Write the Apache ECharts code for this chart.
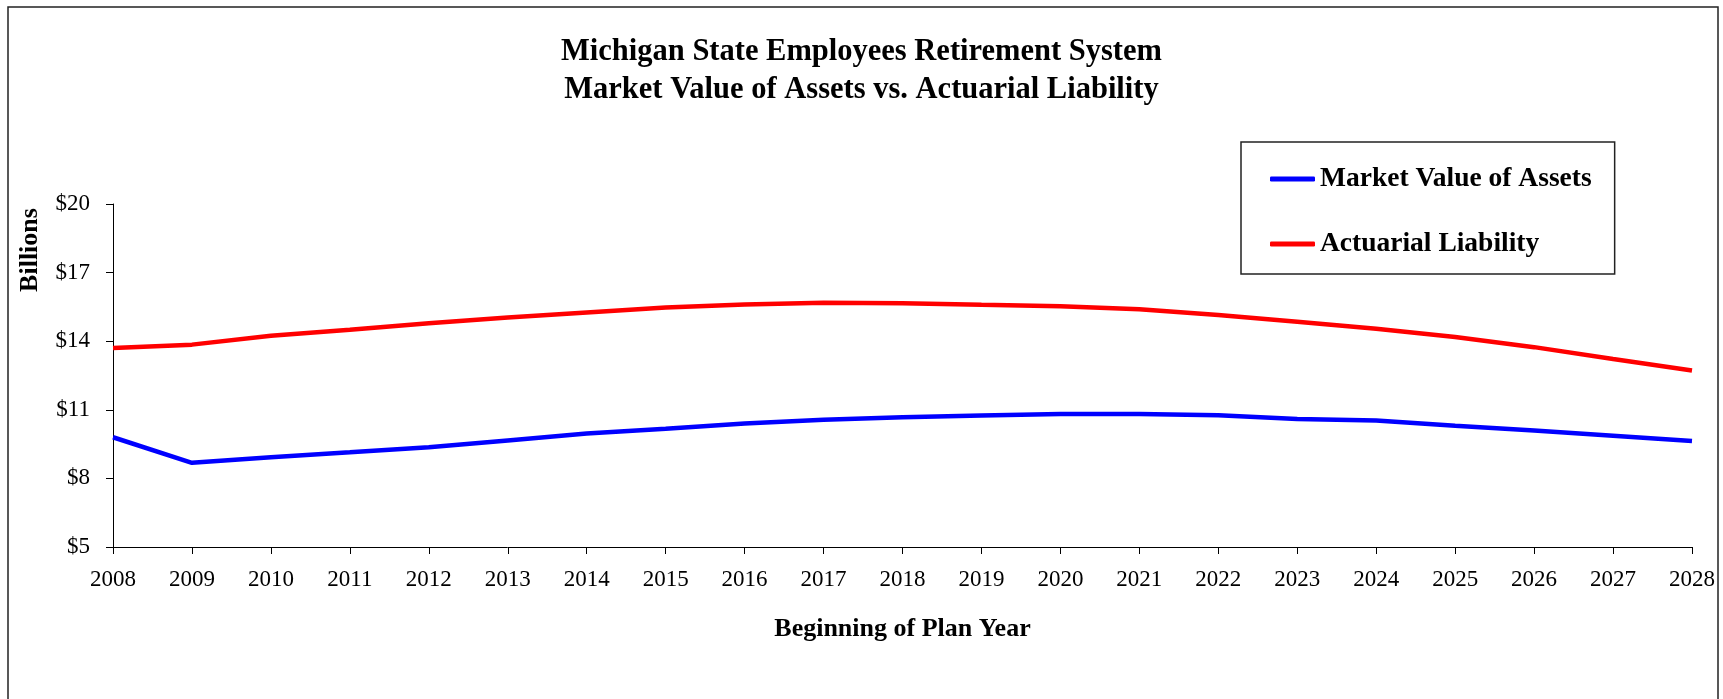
<!DOCTYPE html>
<html>
<head>
<meta charset="utf-8">
<script src="https://cdn.jsdelivr.net/npm/echarts@6/dist/echarts.min.js"></script>
<style>
html,body{margin:0;padding:0;background:#fff;}
#chart{width:1723px;height:699px;}
</style>
</head>
<body>
<div id="chart"></div>
<script>
const years = ['2008','2009','2010','2011','2012','2013','2014','2015','2016','2017','2018','2019','2020','2021','2022','2023','2024','2025','2026','2027','2028'];
const marketValueOfAssets = [9.80, 8.68, 8.93, 9.14, 9.36, 9.66, 9.96, 10.17, 10.40, 10.56, 10.67, 10.75, 10.82, 10.82, 10.76, 10.60, 10.53, 10.30, 10.09, 9.87, 9.64];
const actuarialLiability = [13.70, 13.85, 14.24, 14.50, 14.79, 15.04, 15.26, 15.47, 15.60, 15.68, 15.66, 15.59, 15.53, 15.40, 15.15, 14.85, 14.54, 14.18, 13.74, 13.22, 12.72];
const yTicks = [5, 8, 11, 14, 17, 20];
const titleLines = ['Michigan State Employees Retirement System', 'Market Value of Assets vs. Actuarial Liability'];
const seriesNames = ['Market Value of Assets', 'Actuarial Liability'];
const xAxisTitle = 'Beginning of Plan Year';
const yAxisTitle = 'Billions';

const FONT = "'Liberation Serif', 'Times New Roman', serif";
const chart = echarts.init(document.getElementById('chart'));
chart.setOption({
  animation: false,
  backgroundColor: '#fff',
  title: {
    text: titleLines.join('\n'),
    left: 'center',
    top: 28,
    textStyle: {fontFamily: FONT, fontWeight: 'bold', fontSize: 30.5, lineHeight: 38, color: '#000'}
  },
  graphic: [
    {type: 'rect', shape: {x: 8, y: 7, width: 1710, height: 760}, style: {fill: 'none', stroke: '#222', lineWidth: 1.5}, silent: true},
    {type: 'text', x: 30, y: 250, rotation: Math.PI / 2,
      style: {text: yAxisTitle, fontFamily: FONT, fontWeight: 'bold', fontSize: 26, fill: '#000', align: 'center', verticalAlign: 'middle'}}
  ],
  legend: {
    left: 1241,
    top: 142,
    orient: 'vertical',
    itemWidth: 45,
    itemHeight: 5,
    itemGap: 37,
    padding: [23, 23, 16, 29],
    borderColor: '#222',
    borderWidth: 1.5,
    icon: 'roundRect',
    textStyle: {fontFamily: FONT, fontWeight: 'bold', fontSize: 27.5, color: '#000', padding: [0, 0, 0, 0]},
    data: seriesNames
  },
  grid: {left: 113, right: 31, top: 204, bottom: 152, containLabel: false},
  xAxis: {
    type: 'category',
    data: years,
    boundaryGap: false,
    name: xAxisTitle,
    nameLocation: 'middle',
    nameGap: 69,
    nameTextStyle: {fontFamily: FONT, fontWeight: 'bold', fontSize: 26, color: '#000'},
    axisLine: {lineStyle: {color: '#000', width: 1}},
    axisTick: {show: true, length: 7, alignWithLabel: true, interval: 0, lineStyle: {color: '#000'}},
    axisLabel: {interval: 0, margin: 21, fontFamily: FONT, fontSize: 23, color: '#000'},
    splitLine: {show: false}
  },
  yAxis: {
    type: 'value',
    min: 5,
    max: 20,
    axisLine: {show: true, lineStyle: {color: '#000', width: 1}},
    axisTick: {show: true, length: 7, customValues: yTicks, lineStyle: {color: '#000'}},
    axisLabel: {margin: 23, customValues: yTicks, fontFamily: FONT, fontSize: 23, color: '#000', formatter: v => '$' + v},
    splitLine: {show: false}
  },
  series: [
    {name: seriesNames[0], type: 'line', data: marketValueOfAssets, showSymbol: false, symbol: 'none',
      lineStyle: {color: '#0000FF', width: 4.5}, itemStyle: {color: '#0000FF'}},
    {name: seriesNames[1], type: 'line', data: actuarialLiability, showSymbol: false, symbol: 'none',
      lineStyle: {color: '#FF0000', width: 4.5}, itemStyle: {color: '#FF0000'}}
  ]
});
</script>
</body>
</html>
